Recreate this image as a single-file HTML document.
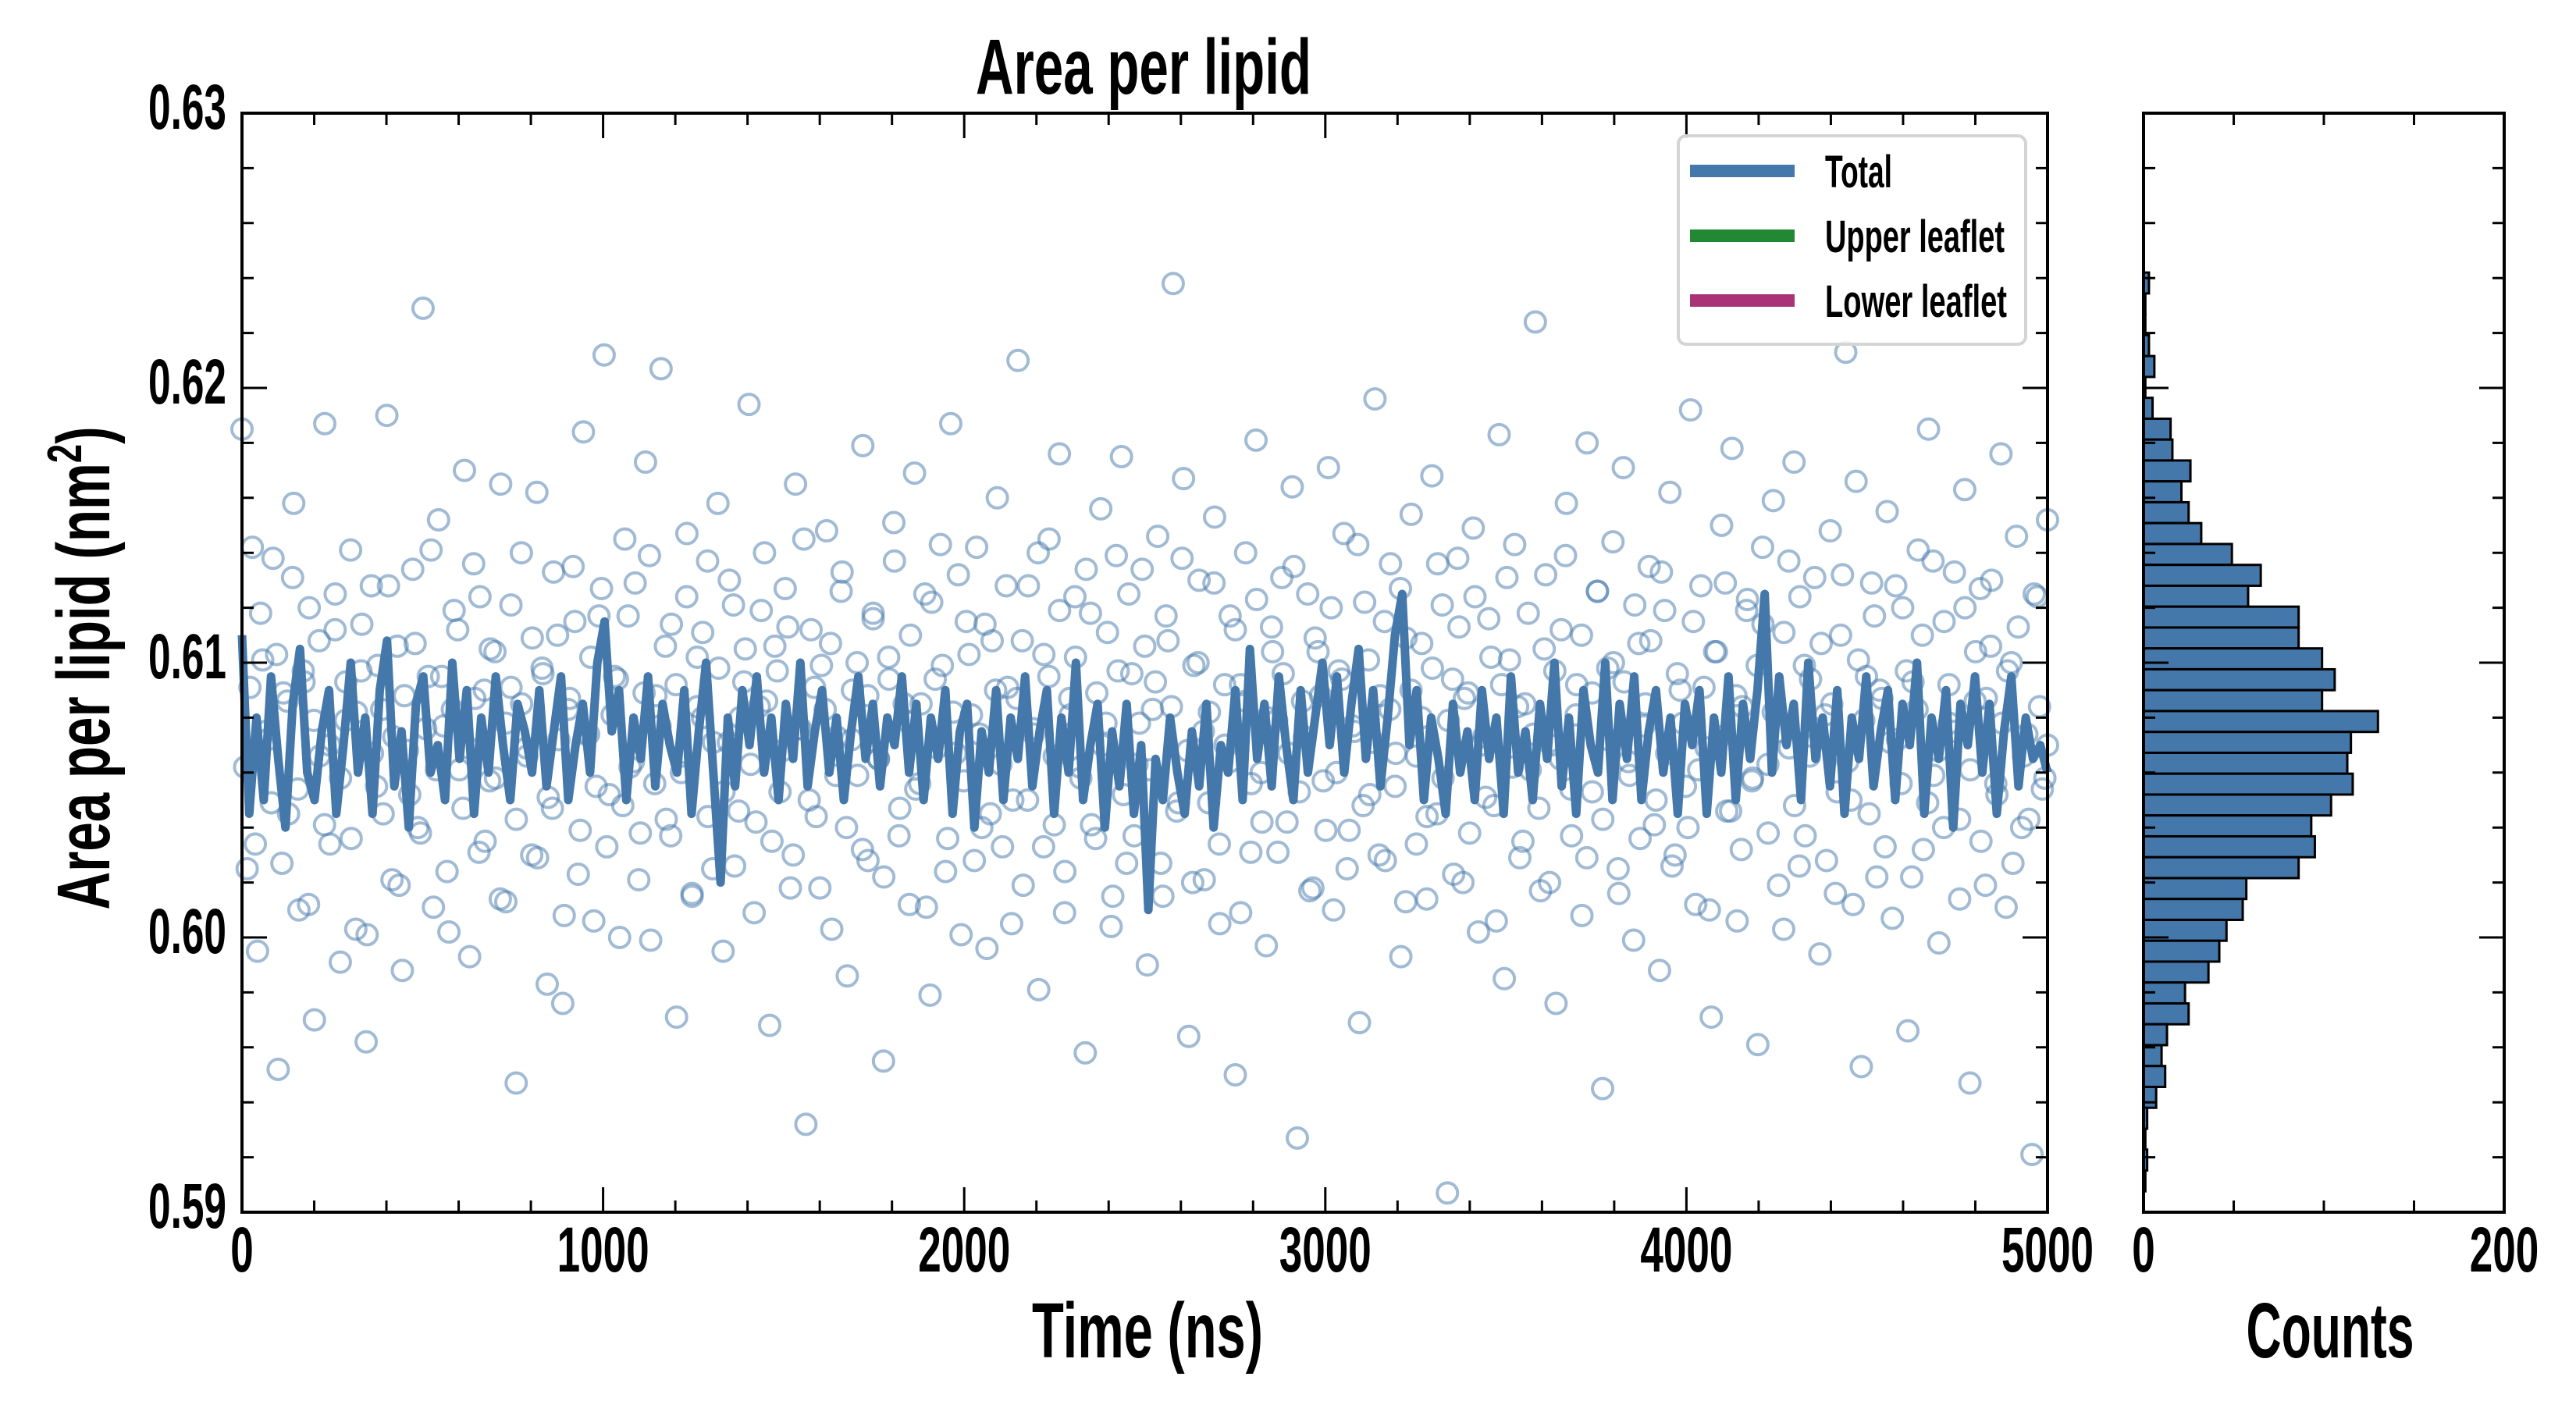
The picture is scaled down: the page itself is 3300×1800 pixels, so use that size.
<!DOCTYPE html>
<html><head><meta charset="utf-8"><style>
html,body{margin:0;padding:0;background:#fff;}
svg{display:block;}
text{font-family:"Liberation Sans Narrow","Liberation Sans",sans-serif;font-weight:bold;fill:#000;}
</style></head><body>
<svg id="chart" xmlns="http://www.w3.org/2000/svg" width="3300" height="1800" viewBox="0 0 3300 1800">
<rect x="0" y="0" width="3300" height="1800" fill="#fff"/>
<text x="1465" y="120" font-size="100" text-anchor="middle" textLength="430" lengthAdjust="spacingAndGlyphs">Area per lipid</text>
<g id="main"></g>
<g id="hist"></g>
<text x="1470" y="1739" font-size="100" text-anchor="middle" textLength="296" lengthAdjust="spacingAndGlyphs">Time (ns)</text>
<text x="2985" y="1739" font-size="100" text-anchor="middle" textLength="215" lengthAdjust="spacingAndGlyphs">Counts</text>
<text transform="translate(140,856) rotate(-90)" font-size="96" text-anchor="middle" textLength="619" lengthAdjust="spacingAndGlyphs">Area per lipid (nm<tspan font-size="62" dy="-36">2</tspan><tspan dy="36">)</tspan></text>
<g>
<rect x="2150" y="174" width="445" height="267" rx="10" fill="#fff" fill-opacity="0.85" stroke="#d4d4d4" stroke-width="4"/>
<line x1="2165" y1="219" x2="2299" y2="219" stroke="#4477aa" stroke-width="16"/>
<text x="2338" y="240" font-size="58" textLength="86" lengthAdjust="spacingAndGlyphs">Total</text>
<line x1="2165" y1="302" x2="2299" y2="302" stroke="#228833" stroke-width="16"/>
<text x="2338" y="323" font-size="58" textLength="230" lengthAdjust="spacingAndGlyphs">Upper leaflet</text>
<line x1="2165" y1="385" x2="2299" y2="385" stroke="#aa3377" stroke-width="16"/>
<text x="2338" y="406" font-size="58" textLength="233" lengthAdjust="spacingAndGlyphs">Lower leaflet</text>
</g>
</svg>
<script>
const totalSeries=[.6110,.6045,.6080,.6050,.6095,.6065,.6040,.6085,.6105,.6060,
.6050,.6075,.6090,.6045,.6070,.6100,.6060,.6080,.6045,.6090,
.6108,.6055,.6075,.6040,.6085,.6095,.6060,.6070,.6050,.6100,
.6065,.6090,.6045,.6080,.6060,.6095,.6070,.6050,.6085,.6075,
.6060,.6090,.6055,.6075,.6095,.6050,.6070,.6085,.6060,.6100,
.6115,.6075,.6090,.6050,.6080,.6065,.6095,.6055,.6085,.6070,
.6060,.6090,.6045,.6075,.6100,.6060,.6020,.6080,.6055,.6090,
.6070,.6095,.6060,.6080,.6050,.6085,.6065,.6100,.6055,.6075,
.6090,.6060,.6080,.6050,.6075,.6095,.6065,.6085,.6055,.6080,
.6070,.6095,.6060,.6085,.6050,.6080,.6065,.6090,.6045,.6075,
.6085,.6040,.6075,.6060,.6090,.6050,.6080,.6065,.6095,.6055,
.6075,.6090,.6045,.6080,.6060,.6100,.6050,.6070,.6085,.6040,
.6075,.6055,.6085,.6045,.6070,.6010,.6065,.6050,.6080,.6060,
.6045,.6075,.6055,.6085,.6040,.6070,.6060,.6090,.6050,.6105,
.6065,.6085,.6055,.6095,.6070,.6050,.6090,.6060,.6080,.6100,
.6070,.6095,.6060,.6085,.6105,.6065,.6090,.6055,.6080,.6110,
.6125,.6070,.6090,.6050,.6080,.6065,.6045,.6085,.6060,.6075,
.6050,.6090,.6065,.6080,.6045,.6095,.6060,.6075,.6050,.6085,
.6065,.6100,.6055,.6080,.6045,.6090,.6070,.6060,.6100,.6050,
.6085,.6065,.6095,.6050,.6075,.6090,.6060,.6080,.6045,.6085,
.6070,.6090,.6045,.6080,.6060,.6095,.6050,.6085,.6065,.6090,
.6125,.6060,.6095,.6070,.6085,.6050,.6100,.6065,.6080,.6055,
.6090,.6045,.6080,.6065,.6095,.6055,.6075,.6090,.6050,.6085,
.6070,.6100,.6045,.6080,.6065,.6090,.6040,.6085,.6070,.6095,
.6060,.6085,.6045,.6075,.6095,.6055,.6080,.6065,.6070,.6060];
const scatterValues=[.6185,.6025,.6142,.5995,.6101,.6072,.6138,.5952,.6089,.6045,
.6158,.6010,.6093,.6120,.5970,.6066,.6187,.6034,.6112,.5991,
.6079,.6141,.6003,.6097,.5962,.6128,.6055,.6083,.6190,.6021,
.6106,.5988,.6068,.6134,.6040,.6229,.6095,.6011,.6152,.6077,
.6002,.6119,.6061,.6170,.5993,.6087,.6124,.6035,.6105,.6058,
.6165,.6013,.6091,.5947,.6140,.6069,.6030,.6162,.6098,.5983,
.6047,.6110,.5976,.6083,.6135,.6023,.6184,.6074,.6006,.6117,
.6212,.6052,.6095,.6000,.6145,.6062,.6129,.6038,.6173,.5999,
.6088,.6207,.6043,.6114,.5971,.6066,.6147,.6015,.6102,.6080,
.6137,.6025,.6158,.5995,.6071,.6121,.6046,.6093,.6194,.6009,
.6084,.6140,.5968,.6106,.6053,.6127,.6018,.6165,.6076,.5932,
.6112,.6044,.6099,.6148,.6003,.6073,.6133,.5986,.6090,.6059,
.6179,.6028,.6118,.6065,.5955,.6102,.6151,.6037,.6085,.6012,
.6169,.6056,.6125,.5979,.6094,.6143,.6024,.6187,.6067,.6001,
.6115,.6081,.6142,.6040,.5996,.6108,.6160,.6033,.6091,.6050,
.6210,.6019,.6128,.6074,.5981,.6103,.6145,.6041,.6176,.6009,
.6087,.6124,.6062,.5958,.6118,.6036,.6156,.6078,.6004,.6139,
.6175,.6027,.6096,.6063,.6134,.5990,.6083,.6146,.6015,.6108,
.6238,.6049,.6167,.5964,.6099,.6130,.6021,.6082,.6153,.6005,
.6070,.6117,.5950,.6092,.6140,.6031,.6181,.6060,.5997,.6113,
.6079,.6131,.6042,.6164,.5927,.6086,.6125,.6018,.6104,.6057,
.6171,.6010,.6097,.6147,.6039,.6075,.5969,.6122,.6052,.6196,
.6088,.6028,.6136,.6067,.5993,.6109,.6154,.6034,.6080,.6014,
.6168,.6045,.6121,.5907,.6094,.6138,.6020,.6089,.6149,.6002,
.6073,.6116,.6048,.6183,.5985,.6101,.6143,.6029,.6085,.6061,
.6224,.6017,.6132,.6070,.5976,.6112,.6158,.6037,.6092,.6008,
.6180,.6053,.6126,.5945,.6098,.6144,.6025,.6171,.6064,.5999,
.6107,.6077,.6135,.6041,.5988,.6119,.6162,.6030,.6090,.6055,
.6192,.6012,.6128,.6069,.5971,.6104,.6150,.6046,.6178,.6006,
.6084,.6123,.6058,.5961,.6114,.6038,.6159,.6075,.6003,.6137,
.6173,.6026,.6099,.6066,.6131,.5994,.6081,.6148,.6016,.6110,
.6213,.6050,.6166,.5953,.6095,.6129,.6022,.6087,.6155,.6007,
.6072,.6120,.5966,.6093,.6141,.6032,.6185,.6059,.5998,.6115,
.6078,.6133,.6043,.6163,.5947,.6086,.6127,.6019,.6106,.6056,
.6176,.6011,.6100,.6146,.6040,.6074,.5921,.6124,.6054,.6152];
const scatterValues2=[.6062,.6091,.6034,.6118,.6075,.6049,.6103,.6027,.6086,.6131,
.6054,.6097,.6012,.6079,.6108,.6041,.6070,.6125,.6058,.6093,
.6036,.6082,.6114,.6001,.6067,.6099,.6045,.6128,.6073,.6019,
.6088,.6052,.6107,.6038,.6076,.6141,.6061,.6095,.6024,.6083,
.6112,.6047,.6069,.6136,.6031,.6090,.6057,.6104,.6014,.6078,
.6121,.6043,.6085,.6066,.6109,.6029,.6096,.6051,.6133,.6072,
.6008,.6087,.6115,.6039,.6074,.6102,.6055,.6127,.6033,.6081,
.6094,.6048,.6117,.6064,.6021,.6089,.6139,.6056,.6077,.6106,
.6037,.6092,.6060,.6124,.6016,.6084,.6111,.6044,.6071,.6098,
.6053,.6130,.6026,.6080,.6105,.6063,.6042,.6119,.6086,.6035,
.6097,.6068,.6113,.6030,.6076,.6145,.6050,.6091,.6018,.6083,
.6107,.6059,.6126,.6040,.6072,.6100,.6032,.6088,.6116,.6065,
.6022,.6094,.6137,.6047,.6079,.6110,.6054,.6085,.6011,.6122,
.6069,.6099,.6036,.6082,.6132,.6057,.6103,.6028,.6074,.6114,
.6045,.6090,.6063,.6128,.6005,.6087,.6108,.6050,.6076,.6140,
.6033,.6095,.6066,.6119,.6024,.6081,.6102,.6058,.6134,.6041,
.6089,.6070,.6111,.6015,.6097,.6052,.6125,.6037,.6078,.6106,
.6061,.6093,.6027,.6117,.6084,.6046,.6138,.6068,.6020,.6100,
.6075,.6049,.6129,.6034,.6092,.6064,.6112,.6009,.6086,.6056,
.6123,.6042,.6080,.6104,.6031,.6096,.6067,.6135,.6053,.6073,
.6017,.6109,.6088,.6039,.6120,.6060,.6094,.6025,.6077,.6143,
.6048,.6101,.6071,.6030,.6115,.6083,.6055,.6127,.6013,.6090,
.6066,.6107,.6044,.6098,.6136,.6058,.6079,.6023,.6113,.6087,
.6038,.6124,.6070,.6051,.6102,.6006,.6092,.6131,.6062,.6084,
.6035,.6118,.6074,.6047,.6105,.6020,.6097,.6065,.6139,.6054,
.6081,.6110,.6029,.6089,.6126,.6043,.6072,.6100,.6016,.6093,
.6059,.6121,.6036,.6085,.6108,.6050,.6133,.6067,.6026,.6096,
.6078,.6040,.6115,.6061,.6091,.6010,.6104,.6073,.6129,.6046,
.6088,.6032,.6119,.6057,.6099,.6142,.6063,.6082,.6019,.6111,
.6069,.6048,.6124,.6037,.6094,.6076,.6107,.6028,.6085,.6053,
.6132,.6064,.6012,.6101,.6079,.6045,.6117,.6090,.6033,.6071,
.6128,.6056,.6097,.6022,.6083,.6110,.6049,.6137,.6068,.6040,
.6092,.6075,.6014,.6120,.6061,.6104,.6035,.6087,.6130,.6052,
.6078,.6097,.6027,.6113,.6066,.6043,.6125,.6084,.6058,.6070];
const histCounts=[3,1,1,3,6,1,5,15,16,26,21,25,32,49,65,58,86,86,99,106,99,130,115,113,116,104,93,95,86,57,55,46,42,36,23,25,13,10,12,7,2,1,2,1];
const histTop=0.6242;
const histBinWidth=0.00076;
const xTickLabels=["0","1000","2000","3000","4000","5000"];
const xTickValues=[0,1000,2000,3000,4000,5000];
const yTickLabels=["0.59","0.60","0.61","0.62","0.63"];
const yTickValues=[0.59,0.60,0.61,0.62,0.63];
const countTickValues=[0,50,100,150,200];
const countTickLabels=["0","","","","200"];
const xMax=5000;

const NS="http://www.w3.org/2000/svg";
const L=310,R=2623,T=145,B=1553,HL=2746,HR=3208;
const xs=v=>L+(v/xMax)*(R-L);
const ys=v=>B-(v-0.59)/0.04*(B-T);
const hs=c=>HL+c/200*(HR-HL);
function mk(tag,attrs,parent){const e=document.createElementNS(NS,tag);for(const k in attrs)e.setAttribute(k,attrs[k]);parent.appendChild(e);return e;}
const main=document.getElementById('main'), hist=document.getElementById('hist');

const sg=mk('g',{},main);


function drawScatter(arr,offset){
  arr.forEach((v,i)=>{
    const t=Math.min(xMax,(i+offset)*xMax/(arr.length-1));
    const c=mk('circle',{cx:xs(t),cy:ys(v),r:13,fill:'none',stroke:'#4477aa','stroke-opacity':0.5,'stroke-width':4},sg);
    
    
  });
}
drawScatter(scatterValues,0);
drawScatter(scatterValues2,0.5);

let d='';
totalSeries.forEach((v,i)=>{d+=(i?'L':'M')+xs(i*xMax/(totalSeries.length-1)).toFixed(1)+','+ys(v).toFixed(1);});
const ln=mk('path',{d:d,fill:'none',stroke:'#4477aa','stroke-width':11,'stroke-linejoin':'round'},main);



const fr=mk('rect',{x:L,y:T,width:R-L,height:B-T,fill:'none',stroke:'#000','stroke-width':4},main);


let tk='';
for(let v=0;v<=xMax+1;v+=200){const x=xs(v);const len=(v%1000===0)?32:15;tk+=`M${x},${B}v${-len}M${x},${T}v${len}`;}
for(let k=0;k<=20;k++){const v=0.59+k*0.002;const y=ys(v);const len=(k%5===0)?32:15;tk+=`M${L},${y}h${len}M${R},${y}h${-len}`;}
const tp=mk('path',{d:tk,stroke:'#000','stroke-width':3,fill:'none'},main);


xTickValues.forEach((v,i)=>{
  const t=mk('text',{x:xs(v),y:1629,'font-size':82,'text-anchor':'middle',textLength:xTickLabels[i].length*29.5,lengthAdjust:'spacingAndGlyphs'},main);
  t.textContent=xTickLabels[i];
  
  
});
yTickValues.forEach((v,i)=>{
  const t=mk('text',{x:290,y:ys(v)+20,'font-size':82,'text-anchor':'end',textLength:100,lengthAdjust:'spacingAndGlyphs'},main);
  t.textContent=yTickLabels[i];
  
  
});

const bg=mk('g',{},hist);


histCounts.forEach((c,i)=>{
  const top=histTop-i*histBinWidth, bot=top-histBinWidth;
  const r=mk('rect',{x:HL,y:ys(top),width:hs(c)-HL,height:ys(bot)-ys(top),fill:'#4477aa',stroke:'#000','stroke-width':3},bg);
  
  
});
const hf=mk('rect',{x:HL,y:T,width:HR-HL,height:B-T,fill:'none',stroke:'#000','stroke-width':4},hist);


let ht='';
countTickValues.forEach(c=>{const x=hs(c);ht+=`M${x},${B}v-15M${x},${T}v15`;});
for(let k=0;k<=20;k++){const y=ys(0.59+k*0.002);const len=(k%5===0)?32:15;ht+=`M${HL},${y}h${len}M${HR},${y}h${-len}`;}
const hp=mk('path',{d:ht,stroke:'#000','stroke-width':3,fill:'none'},hist);


countTickValues.forEach((c,i)=>{
  if(!countTickLabels[i])return;
  const t=mk('text',{x:hs(c),y:1629,'font-size':82,'text-anchor':'middle',textLength:countTickLabels[i].length*29.5,lengthAdjust:'spacingAndGlyphs'},hist);
  t.textContent=countTickLabels[i];
  
  
});
</script>
</body></html>
